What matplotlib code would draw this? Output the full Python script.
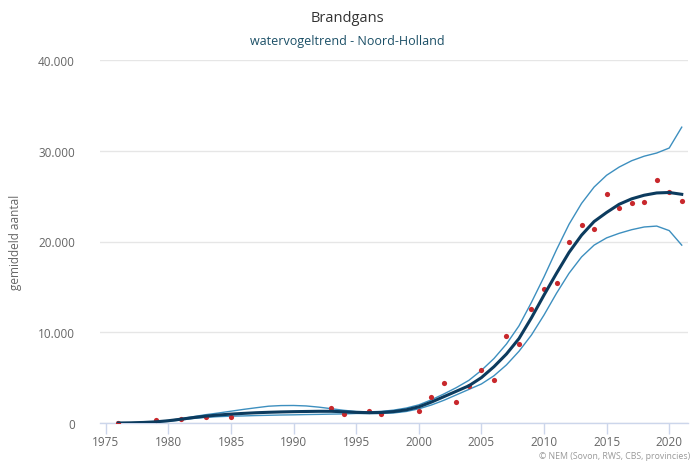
import matplotlib
matplotlib.use("Agg")
import matplotlib.pyplot as plt
from matplotlib.ticker import FuncFormatter, FixedLocator

years = list(range(1976, 2022))
trend = [0, 20, 60, 130, 250, 420, 600, 760, 880, 980,
         1060, 1130, 1180, 1220, 1250, 1270, 1290, 1290, 1240, 1170,
         1140, 1160, 1260, 1450, 1780, 2300, 2900, 3500, 4100, 5000,
         6200, 7600, 9300, 11600, 14100, 16500, 18800, 20700, 22200, 23200,
         24100, 24700, 25100, 25350, 25400, 25200]
upper = [0, 30, 80, 160, 280, 470, 700, 920, 1100, 1300,
         1500, 1680, 1850, 1920, 1930, 1880, 1750, 1580, 1400, 1270,
         1230, 1280, 1420, 1650, 2000, 2550, 3200, 3900, 4700, 5800,
         7100, 8700, 10700, 13300, 16100, 19100, 21900, 24200, 26000, 27300,
         28200, 28900, 29400, 29750, 30300, 32600]
lower = [0, 10, 40, 90, 180, 330, 500, 620, 700, 750,
         780, 820, 850, 880, 900, 930, 950, 980, 1000, 1050,
         1040, 1050, 1110, 1270, 1560, 1980, 2500, 3100, 3700, 4300,
         5200, 6400, 7900, 9700, 11900, 14300, 16500, 18300, 19600, 20400,
         20900, 21300, 21600, 21700, 21200, 19600]

obs_years = [1976, 1979, 1981, 1983, 1985, 1993, 1994, 1996, 1997,
             2000, 2001, 2002, 2003, 2004, 2005, 2006, 2007, 2008, 2009,
             2010, 2011, 2012, 2013, 2014, 2015, 2016, 2017, 2018, 2019,
             2020, 2021]
obs_vals = [0, 300, 440, 630, 630, 1690, 1030, 1320, 1030,
            1290, 2900, 4370, 2350, 4080, 5840, 4740, 9550, 8700, 12600,
            14800, 15400, 19900, 21850, 21400, 25200, 23700, 24200, 24350, 26800,
            25400, 24500]

xticks = [1975, 1980, 1985, 1990, 1995, 2000, 2005, 2010, 2015, 2020]
yticks = [0, 10000, 20000, 30000, 40000]

title = "Brandgans"
subtitle = "watervogeltrend - Noord-Holland"
ylabel = "gemiddeld aantal"
credits = "© NEM (Sovon, RWS, CBS, provincies)"

plt.rcParams['font.family'] = ['Open Sans', 'DejaVu Sans']

fig = plt.figure(figsize=(6.95, 4.64), dpi=100)
ax = fig.add_axes([100/695, 1-424/464, 588/695, 363/464])

ax.plot(years, upper, color='#3d8fbf', lw=1.0, zorder=2)
ax.plot(years, lower, color='#3d8fbf', lw=1.0, zorder=2)
ax.scatter(obs_years, obs_vals, s=14, color='#c8282c', zorder=3, linewidths=0)
ax.plot(years, trend, color='#0c3b5e', lw=2.2, zorder=4)

ax.set_xlim(1974.54, 2021.5)
ax.set_ylim(0, 40000)
ax.xaxis.set_major_locator(FixedLocator(xticks))
ax.yaxis.set_major_locator(FixedLocator(yticks))
ax.yaxis.set_major_formatter(FuncFormatter(lambda v, p: f"{int(v):,}".replace(",", ".")))

ax.grid(axis='y', color='#e6e6e6', lw=1)
ax.set_axisbelow(True)
for s in ['top', 'right', 'left']:
    ax.spines[s].set_visible(False)
ax.spines['bottom'].set_color('#ccd6eb')
ax.spines['bottom'].set_linewidth(1)
ax.tick_params(axis='x', colors='#ccd6eb', length=8, width=1, labelcolor='#666666',
               labelsize=8.5, pad=1)
ax.tick_params(axis='y', length=0, labelcolor='#666666', labelsize=8.5, pad=18)

ax.set_ylabel(ylabel, color='#666666', fontsize=8.5, labelpad=10)
ax.yaxis.set_label_coords(-(100-22)/588, 0.5)

fig.text(0.5, 1-18/464, title, ha='center', va='center', fontsize=10.5, color='#333333')
fig.text(0.5, 1-42/464, subtitle, ha='center', va='center', fontsize=9, color='#1b4f66')
fig.text(690/695, 1-457/464, credits, ha='right', va='center', fontsize=6.3, color='#999999')

fig.savefig("out.png", dpi=100)
